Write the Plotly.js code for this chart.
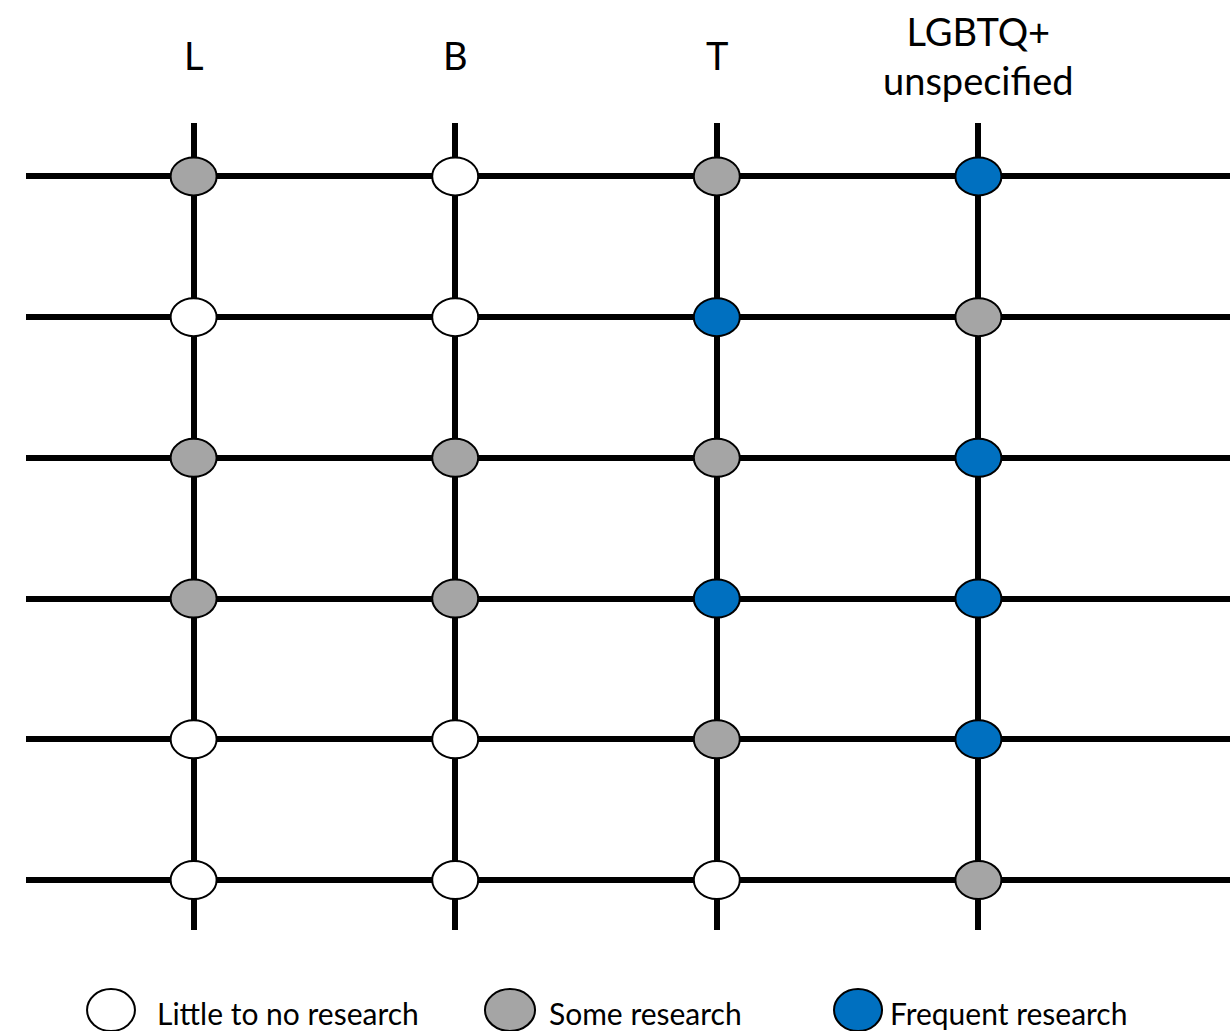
<!DOCTYPE html>
<html>
<head>
<meta charset="utf-8">
<script src="https://cdn.plot.ly/plotly-3.0.1.min.js"></script>
<style>html,body{margin:0;padding:0;background:#fff;}#chart{width:1230px;height:1031px;}</style>
</head>
<body>
<div id="chart"></div>
<script>
// ---- data ----
const columns = ['L', 'B', 'T', 'LGBTQ+<br>unspecified'];
const rows = [0, 1, 2, 3, 4, 5];
// research level per row (0 = little to no, 1 = some, 2 = frequent), one value per column
const row1 = [1, 0, 1, 2];
const row2 = [0, 0, 2, 1];
const row3 = [1, 1, 1, 2];
const row4 = [1, 1, 2, 2];
const row5 = [0, 0, 1, 2];
const row6 = [0, 0, 0, 1];
const levelNames = ['Little to no research', 'Some research', 'Frequent research'];
const levelColors = ['#FFFFFF', '#A5A5A5', '#0070C0'];

// ---- build ----
const grid = [row1, row2, row3, row4, row5, row6];
const FONT = 'Lato, "Open Sans", sans-serif';
const shapes = [];
const xs = [], ys = [], cs = [], txt = [];
grid.forEach((r, ri) => {
  r.forEach((lv, ci) => {
    xs.push(ci); ys.push(rows[ri]); cs.push(levelColors[lv]);
    txt.push(columns[ci].replace('<br>', ' ') + ': ' + levelNames[lv]);
    shapes.push({
      type: 'circle', xref: 'x', yref: 'y', layer: 'above',
      xsizemode: 'pixel', ysizemode: 'pixel',
      xanchor: ci, yanchor: rows[ri],
      x0: -23, x1: 23, y0: -19, y1: 19,
      fillcolor: levelColors[lv], line: {color: '#000', width: 2}
    });
  });
});

// legend (custom, drawn with shapes + annotations in paper space)
const legMarkX = [[0.0507, 0.0905], [0.3812, 0.4228], [0.6711, 0.7110]];
const legTextX = [0.1071, 0.4327, 0.7159];
const annotations = [];
levelNames.forEach((n, i) => {
  shapes.push({
    type: 'circle', xref: 'paper', yref: 'paper', layer: 'above',
    x0: legMarkX[i][0], x1: legMarkX[i][1], y0: -0.1252, y1: -0.0731,
    fillcolor: levelColors[i], line: {color: '#000', width: 2}
  });
  annotations.push({
    xref: 'paper', yref: 'paper', x: legTextX[i], y: -0.1025,
    xanchor: 'left', yanchor: 'middle', showarrow: false,
    text: n, font: {family: FONT, size: 30, color: '#000'}
  });
});
columns.forEach((c, i) => {
  annotations.push({
    xref: 'x', yref: 'paper', x: i, y: 1.084,
    xanchor: 'center', yanchor: 'middle', showarrow: false,
    text: c, font: {family: FONT, size: 38, color: '#000'}
  });
});

const trace = {
  type: 'scatter', mode: 'markers', x: xs, y: ys,
  marker: {size: 40, color: cs, opacity: 0},
  text: txt, hoverinfo: 'text', showlegend: false
};

const layout = {
  width: 1230, height: 1031,
  margin: {l: 26, r: 0, t: 123, b: 101, pad: 0},
  paper_bgcolor: '#fff', plot_bgcolor: '#fff',
  showlegend: false,
  xaxis: {
    range: [-0.6407, 3.9618], tickvals: [0, 1, 2, 3], showticklabels: false,
    showgrid: true, gridcolor: '#000', gridwidth: 6, zeroline: false,
    showline: false, ticks: '', fixedrange: true
  },
  yaxis: {
    range: [5.355, -0.3795], tickvals: rows, showticklabels: false,
    showgrid: true, gridcolor: '#000', gridwidth: 6, zeroline: false,
    showline: false, ticks: '', fixedrange: true
  },
  shapes: shapes,
  annotations: annotations,
  font: {family: FONT, color: '#000'}
};

Plotly.newPlot('chart', [trace], layout, {displayModeBar: false});
</script>
</body>
</html>
